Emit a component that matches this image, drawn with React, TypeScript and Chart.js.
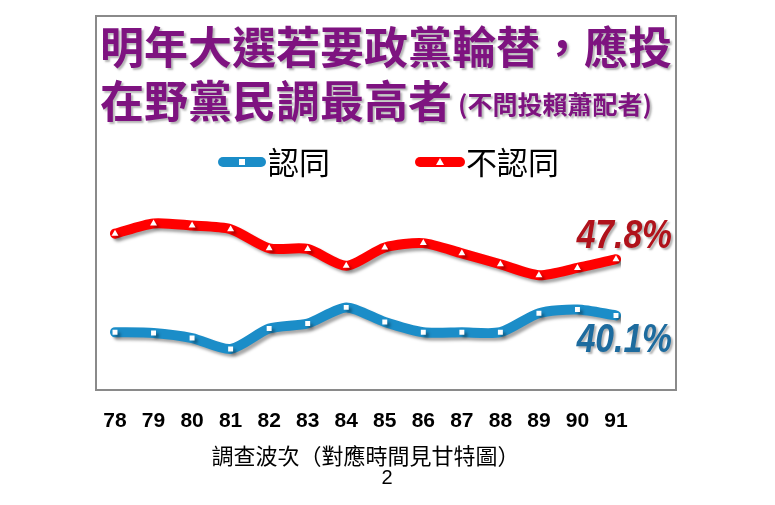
import React, { useEffect, useRef } from "react";
import { Chart, registerables } from "chart.js";

Chart.register(...registerables);

const waves = ["78", "79", "80", "81", "82", "83", "84", "85", "86", "87", "88", "89", "90", "91"];
const agree = [37.8, 37.7, 37.0, 35.5, 38.3, 39.0, 41.2, 39.2, 37.8, 37.8, 37.8, 40.4, 40.9, 40.1];
const disagree = [51.3, 52.7, 52.4, 51.9, 49.3, 49.2, 46.9, 49.4, 50.0, 48.6, 47.1, 45.6, 46.6, 47.8];
const seriesNames = ["認同", "不認同"];
const titleLine1 = "明年大選若要政黨輪替，應投";
const titleLine2a = "在野黨民調最高者";
const titleLine2b = "(不問投賴蕭配者)";
const axisTitle = "調查波次（對應時間見甘特圖）";
const pageNo = "2";

const BLUE = "#1B8DC8";
const RED = "#FF0000";

const decor = {
  id: "decor",
  beforeDraw(chart: any) {
    const ctx = chart.ctx;
    ctx.save();
    ctx.fillStyle = "#ffffff";
    ctx.fillRect(0, 0, chart.width, chart.height);
    ctx.strokeStyle = "#8a8a8a";
    ctx.lineWidth = 2;
    ctx.strokeRect(96, 16, 580, 374);
    // title
    ctx.shadowColor = "rgba(120,120,120,0.55)";
    ctx.shadowOffsetX = 2;
    ctx.shadowOffsetY = 2;
    ctx.shadowBlur = 2;
    ctx.fillStyle = "#7E1380";
    ctx.textBaseline = "middle";
    ctx.textAlign = "left";
    ctx.font = "bold 44px 'Noto Sans CJK TC'";
    ctx.fillText(titleLine1, 100, 47);
    ctx.fillText(titleLine2a, 100, 101);
    ctx.font = "bold 25px 'Noto Sans CJK TC'";
    ctx.fillText(titleLine2b, 458, 104);
    ctx.restore();

    // legend
    ctx.save();
    const drawMarker = (x0: number, x1: number, y: number, color: string, shape: string) => {
      ctx.strokeStyle = color;
      ctx.lineWidth = 10;
      ctx.lineCap = "round";
      ctx.beginPath();
      ctx.moveTo(x0, y);
      ctx.lineTo(x1, y);
      ctx.stroke();
      const cx = (x0 + x1) / 2;
      ctx.fillStyle = "#ffffff";
      if (shape === "rect") {
        ctx.fillRect(cx - 3, y - 3, 6, 6);
      } else {
        ctx.beginPath();
        ctx.moveTo(cx, y - 4);
        ctx.lineTo(cx + 4, y + 3);
        ctx.lineTo(cx - 4, y + 3);
        ctx.closePath();
        ctx.fill();
      }
    };
    drawMarker(223, 261, 162, BLUE, "rect");
    drawMarker(420, 460, 162, RED, "tri");
    ctx.fillStyle = "#000000";
    ctx.font = "31px 'Noto Sans CJK TC'";
    ctx.textBaseline = "middle";
    ctx.textAlign = "left";
    ctx.fillText(seriesNames[0], 268, 162);
    ctx.fillText(seriesNames[1], 466, 162);
    ctx.restore();

    // page number
    ctx.save();
    ctx.fillStyle = "#000000";
    ctx.font = "20px 'Liberation Sans'";
    ctx.textAlign = "center";
    ctx.textBaseline = "middle";
    ctx.fillText(pageNo, 387, 478);
    ctx.restore();
  },
  beforeDatasetDraw(chart: any) {
    const ctx = chart.ctx;
    ctx.save();
    ctx.shadowColor = "rgba(0,0,0,0.35)";
    ctx.shadowOffsetX = 3;
    ctx.shadowOffsetY = 3;
    ctx.shadowBlur = 3;
  },
  afterDatasetDraw(chart: any) {
    chart.ctx.restore();
  },
  afterDatasetsDraw(chart: any) {
    const ctx = chart.ctx;
    const redMeta = chart.getDatasetMeta(1);
    const blueMeta = chart.getDatasetMeta(0);
    const rp = redMeta.data[redMeta.data.length - 1];
    const bp = blueMeta.data[blueMeta.data.length - 1];
    const drawLabel = (text: string, x: number, y: number, color: string) => {
      ctx.save();
      ctx.shadowColor = "rgba(0,0,0,0.3)";
      ctx.shadowOffsetX = 2;
      ctx.shadowOffsetY = 2;
      ctx.shadowBlur = 2;
      ctx.translate(x, y);
      ctx.scale(0.82, 1);
      ctx.font = "italic bold 41px 'Liberation Sans'";
      ctx.textAlign = "right";
      ctx.textBaseline = "middle";
      ctx.fillStyle = color;
      ctx.fillText(text, 0, 0);
      ctx.restore();
    };
    drawLabel(disagree[disagree.length - 1].toFixed(1) + "%", rp.x + 56, rp.y - 22, "#B0121B");
    drawLabel(agree[agree.length - 1].toFixed(1) + "%", bp.x + 56, bp.y + 25, "#1D6B9E");
  },
};

export default function App() {
  const ref = useRef<HTMLCanvasElement>(null);
  useEffect(() => {
    if (!ref.current) return;
    const chart = new Chart(ref.current, {
      type: "line",
      data: {
        labels: waves,
        datasets: [
          {
            label: seriesNames[0],
            data: agree,
            borderColor: BLUE,
            borderWidth: 10,
            tension: 0.25,
            pointStyle: "rect",
            pointRadius: 3.5,
            pointBackgroundColor: "#ffffff",
            pointBorderWidth: 0,
            borderCapStyle: "round",
            borderJoinStyle: "round",
          },
          {
            label: seriesNames[1],
            data: disagree,
            borderColor: RED,
            borderWidth: 10,
            tension: 0.25,
            pointStyle: "triangle",
            pointRadius: 4,
            pointBackgroundColor: "#ffffff",
            pointBorderWidth: 0,
            borderCapStyle: "round",
            borderJoinStyle: "round",
          },
        ],
      },
      options: {
        animation: false,
        responsive: false,
        devicePixelRatio: 1,
        layout: { padding: { left: 115, right: 159, top: 192, bottom: 36 } },
        plugins: { legend: { display: false }, title: { display: false }, tooltip: { enabled: false } },
        scales: {
          x: {
            offset: false,
            border: { display: false },
            grid: { display: false, drawTicks: false },
            ticks: {
              color: "#000000",
              padding: 9,
              autoSkip: false,
              maxRotation: 0,
              font: { family: "'Liberation Sans'", size: 21, weight: "bold" },
            },
            title: {
              display: true,
              text: axisTitle,
              color: "#000000",
              font: { family: "'Noto Sans CJK TC'", size: 22 },
              padding: { top: 0, bottom: 0 },
            },
          },
          y: { display: false, min: 28.6, max: 57 },
        },
      },
      plugins: [decor],
    });
    return () => chart.destroy();
  }, []);
  return (
    <div style={{ position: "absolute", left: 0, top: 0, width: 775, height: 505, background: "#fff" }}>
      <canvas ref={ref} width={775} height={505} style={{ width: 775, height: 505 }} />
    </div>
  );
}
